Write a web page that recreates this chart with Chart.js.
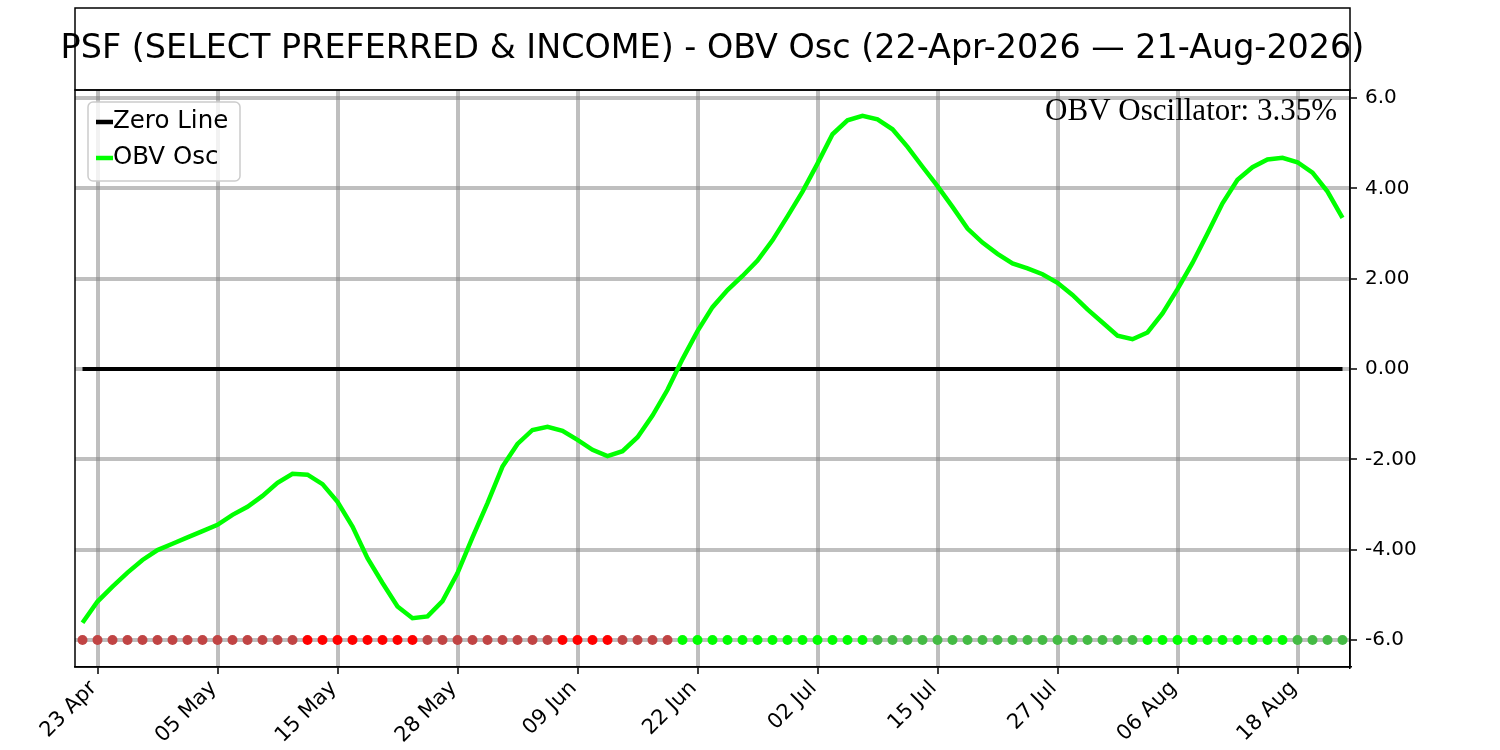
<!DOCTYPE html>
<html>
<head>
<meta charset="utf-8">
<script src="https://cdn.jsdelivr.net/npm/chart.js@4.4.1/dist/chart.umd.min.js"></script>
<style>
  html, body { margin: 0; padding: 0; background: #fff; }
  #wrap { width: 1500px; height: 750px; }
</style>
</head>
<body>
<div id="wrap"><canvas id="chart"></canvas></div>
<script>
// trading days, 22-Apr-2026 .. 21-Aug-2026
const dates = [
  '22 Apr', '23 Apr', '24 Apr', '27 Apr', '28 Apr', '29 Apr', '30 Apr',
  '01 May', '04 May', '05 May', '06 May', '07 May', '08 May', '11 May', '12 May', '13 May', '14 May', '15 May',
  '18 May', '19 May', '20 May', '21 May', '22 May', '26 May', '27 May', '28 May', '29 May',
  '01 Jun', '02 Jun', '03 Jun', '04 Jun', '05 Jun', '08 Jun', '09 Jun', '10 Jun', '11 Jun', '12 Jun',
  '15 Jun', '16 Jun', '17 Jun', '18 Jun', '22 Jun', '23 Jun', '24 Jun', '25 Jun', '26 Jun', '29 Jun', '30 Jun',
  '01 Jul', '02 Jul', '06 Jul', '07 Jul', '08 Jul', '09 Jul', '10 Jul', '13 Jul', '14 Jul', '15 Jul', '16 Jul', '17 Jul',
  '20 Jul', '21 Jul', '22 Jul', '23 Jul', '24 Jul', '27 Jul', '28 Jul', '29 Jul', '30 Jul', '31 Jul',
  '03 Aug', '04 Aug', '05 Aug', '06 Aug', '07 Aug', '10 Aug', '11 Aug', '12 Aug', '13 Aug', '14 Aug',
  '17 Aug', '18 Aug', '19 Aug', '20 Aug', '21 Aug'
];

const obvOsc = [
  -5.62, -5.15, -4.82, -4.51, -4.23, -4.01, -3.87, -3.73, -3.59, -3.45,
  -3.23, -3.05, -2.81, -2.52, -2.32, -2.34, -2.55, -2.94, -3.49, -4.19,
  -4.74, -5.26, -5.52, -5.48, -5.14, -4.52, -3.73, -2.97, -2.16, -1.66,
  -1.35, -1.28, -1.37, -1.57, -1.79, -1.93, -1.82, -1.51, -1.03, -0.46,
  0.22, 0.84, 1.37, 1.75, 2.06, 2.40, 2.85, 3.38, 3.93, 4.55,
  5.20, 5.51, 5.61, 5.53, 5.31, 4.92, 4.48, 4.05, 3.59, 3.11,
  2.80, 2.55, 2.34, 2.23, 2.10, 1.91, 1.64, 1.32, 1.03, 0.74,
  0.66, 0.81, 1.23, 1.77, 2.35, 3.00, 3.67, 4.19, 4.47, 4.64,
  4.68, 4.58, 4.35, 3.93, 3.35
];

const xTickIdx = [1, 9, 17, 25, 33, 41, 49, 57, 65, 73, 81];
const yTickVals = [-6, -4, -2, 0, 2, 4, 6];
const yTickText = ['-6.0', '-4.00', '-2.00', '0.00', '2.00', '4.00', '6.0'];
const dotLevel = -6;
const lastValue = obvOsc[obvOsc.length - 1];

// signal dots: colour by sign and direction of the oscillator
const dotColors = obvOsc.map((v, i) => {
  const up = i === 0 || v >= obvOsc[i - 1];
  if (v < 0) return up ? '#c04444' : '#ff0000';
  return up ? '#00ff00' : '#44bb44';
});

const framePlugin = {
  id: 'frame',
  afterDraw(chart) {
    const ctx = chart.ctx;
    const a = chart.chartArea;
    ctx.save();
    // plot frame
    ctx.strokeStyle = '#000';
    ctx.lineWidth = 1.5;
    ctx.strokeRect(a.left, a.top, a.right - a.left, a.bottom - a.top);
    // title box
    ctx.strokeRect(a.left, 8, a.right - a.left, a.top - 8);
    ctx.fillStyle = '#000';
    ctx.font = '33.4px "DejaVu Sans"';
    ctx.textAlign = 'center';
    ctx.textBaseline = 'middle';
    ctx.fillText('PSF (SELECT PREFERRED & INCOME) - OBV Osc (22-Apr-2026 \u2014 21-Aug-2026)', (a.left + a.right) / 2, 49.5);
    // current value note
    ctx.font = '31px "Liberation Serif"';
    ctx.textAlign = 'right';
    ctx.textBaseline = 'alphabetic';
    ctx.fillText('OBV Oscillator: ' + lastValue.toFixed(2) + '%', a.right - 13, 120);
    // legend
    const items = chart.data.datasets.filter(d => d.label);
    ctx.beginPath();
    ctx.roundRect(88, 102, 152, 79, 5);
    ctx.fillStyle = 'rgba(255,255,255,0.8)';
    ctx.fill();
    ctx.strokeStyle = '#cccccc';
    ctx.lineWidth = 1.5;
    ctx.stroke();
    ctx.font = '24.5px "DejaVu Sans"';
    ctx.textAlign = 'left';
    ctx.textBaseline = 'middle';
    items.forEach((d, i) => {
      const y = 122 + i * 36;
      ctx.strokeStyle = d.borderColor;
      ctx.lineWidth = 4.5;
      ctx.beginPath();
      ctx.moveTo(96, y);
      ctx.lineTo(113, y);
      ctx.stroke();
      ctx.fillStyle = '#000';
      ctx.fillText(d.label, 113, y);
    });
    ctx.restore();
  }
};

const chart = document.querySelector('#chart').getContext('2d');

new Chart(chart, {
  type: 'line',
  data: {
    datasets: [
      {
        data: dates.map((d, i) => ({ x: i, y: dotLevel })),
        showLine: false,
        pointRadius: 5,
        pointBorderWidth: 0,
        pointBackgroundColor: dotColors,
        order: 3
      },
      {
        label: 'Zero Line',
        data: dates.map((d, i) => ({ x: i, y: 0 })),
        borderColor: '#000000',
        borderWidth: 4.2,
        pointRadius: 0,
        order: 2
      },
      {
        label: 'OBV Osc',
        data: obvOsc.map((v, i) => ({ x: i, y: v })),
        borderColor: '#00ff00',
        borderWidth: 4.5,
        pointRadius: 0,
        tension: 0,
        order: 1
      }
    ]
  },
  options: {
    responsive: true,
    maintainAspectRatio: false,
    animation: false,
    devicePixelRatio: 1,
    layout: { padding: { top: 90, left: 75, right: 0, bottom: 0 } },
    plugins: {
      legend: { display: false },
      tooltip: { enabled: false }
    },
    scales: {
      x: {
        type: 'linear',
        min: -0.5,
        max: 84.5,
        afterBuildTicks: s => { s.ticks = xTickIdx.map(v => ({ value: v })); },
        afterFit: s => { s.height = 83; },
        ticks: {
          callback: v => dates[v],
          autoSkip: false,
          minRotation: 45,
          maxRotation: 45,
          padding: 2,
          labelOffset: -4,
          color: '#000',
          font: { family: 'DejaVu Sans', size: 21 }
        },
        grid: {
          color: 'rgba(128,128,128,0.5)',
          lineWidth: 4,
          tickColor: '#000',
          tickLength: 7,
          tickWidth: 1.5
        },
        border: { color: '#000', width: 1.5 }
      },
      y: {
        position: 'right',
        min: -6.6,
        max: 6.18,
        afterBuildTicks: s => { s.ticks = yTickVals.map(v => ({ value: v })); },
        afterFit: s => { s.width = 150; },
        ticks: {
          callback: v => yTickText[yTickVals.indexOf(v)],
          padding: 8,
          color: '#000',
          font: { family: 'DejaVu Sans', size: 20 }
        },
        grid: {
          color: 'rgba(128,128,128,0.5)',
          lineWidth: 4,
          tickColor: '#000',
          tickLength: 7,
          tickWidth: 1.5
        },
        border: { color: '#000', width: 1.5 }
      }
    }
  },
  plugins: [framePlugin]
});
</script>
</body>
</html>
